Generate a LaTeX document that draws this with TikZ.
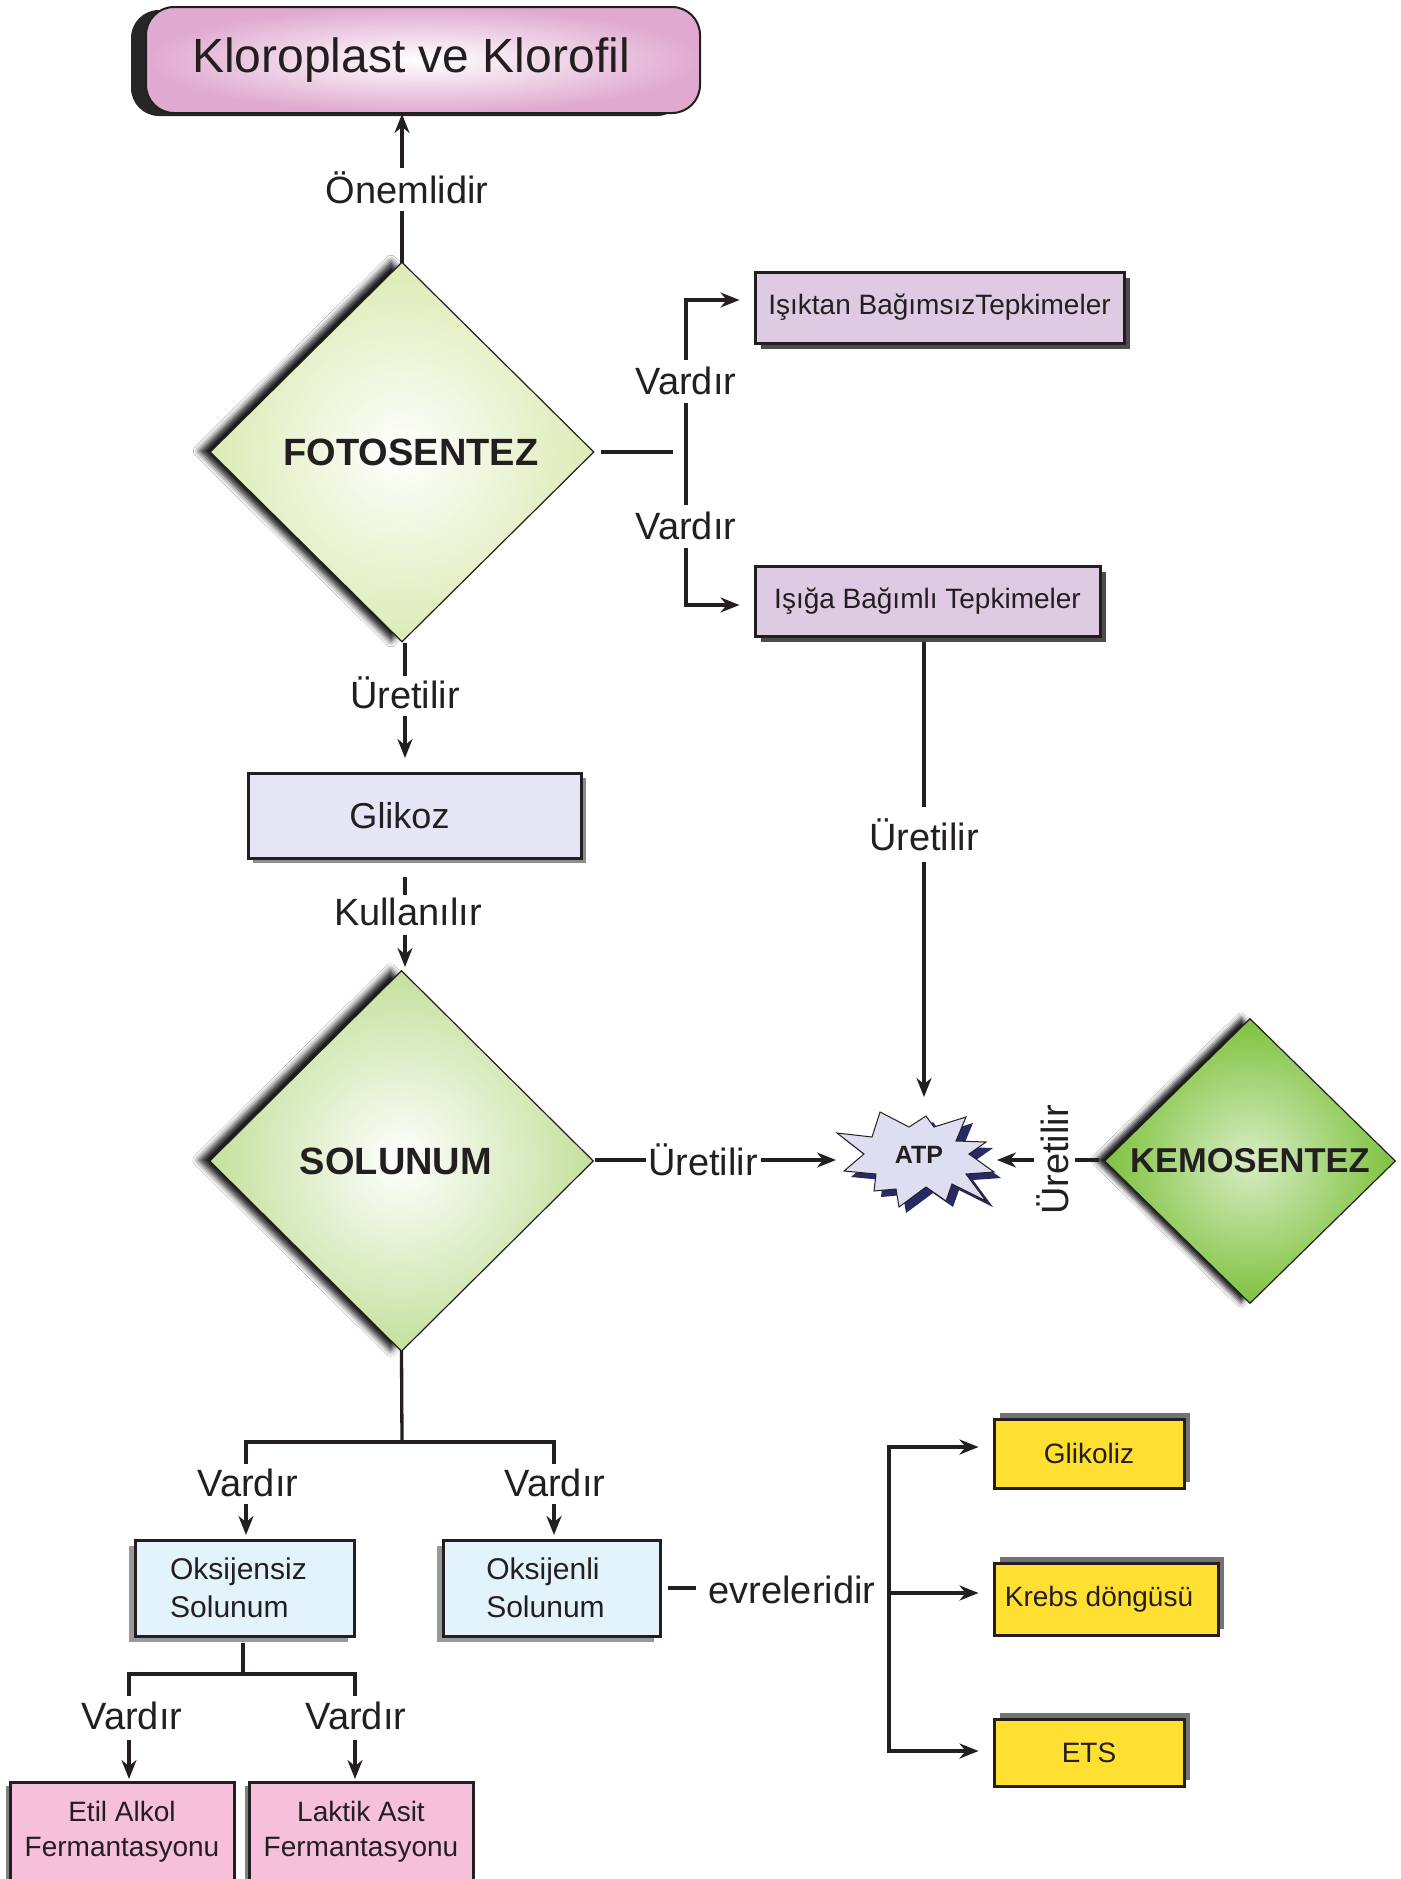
\documentclass[tikz,border=0pt]{standalone}
\usepackage{fontspec}
\setmainfont{Liberation Sans}
\usetikzlibrary{shapes.geometric,shadows,shadows.blur,arrows.meta}
\definecolor{ink}{RGB}{35,31,32}
\definecolor{kpink}{RGB}{224,170,208}
\definecolor{lav}{RGB}{222,202,226}
\definecolor{glk}{RGB}{230,229,245}
\definecolor{fgreen}{RGB}{220,235,180}
\definecolor{sgreen}{RGB}{196,224,156}
\definecolor{kgreen}{RGB}{126,194,62}
\definecolor{lblue}{RGB}{226,243,252}
\definecolor{fpink}{RGB}{246,192,218}
\definecolor{yel}{RGB}{255,224,50}
\definecolor{atpfill}{RGB}{222,222,242}
\definecolor{navy}{RGB}{40,42,100}
\begin{document}
\begin{tikzpicture}[x=1pt,y=-1pt,
  line/.style={draw=ink,line width=3.3pt,line cap=rect},
  arr/.style={draw=ink,line width=3.3pt,-{Stealth[length=19pt,width=15pt]}},
  lbl/.style={font=\fontsize{38}{44}\selectfont,text=ink,inner sep=0pt},
  box/.style={rectangle,draw=ink,line width=3pt,inner sep=0pt,text=ink},
  dia/.style={diamond,draw=ink,line width=1.2pt,inner sep=0pt,text=ink,
     font=\fontsize{38}{44}\selectfont\bfseries},
  rbshadow/.style={drop shadow={shadow xshift=6pt,shadow yshift=-6pt,fill=black!70,opacity=1}},
  lbshadow/.style={drop shadow={shadow xshift=-6pt,shadow yshift=-6pt,fill=black!40,opacity=1}},
  rtshadow/.style={drop shadow={shadow xshift=6pt,shadow yshift=6pt,fill=black!55,opacity=1}},
  dshadow/.style={blur shadow={shadow xshift=-11pt,shadow yshift=1pt,shadow blur radius=6pt,shadow opacity=90}},
]
\useasboundingbox[fill=white] (0,0) rectangle (1400,1879);

% ---------- nodes ----------
\node[box,rounded corners=28pt,minimum width=554pt,minimum height=106pt,
  shade,inner color=white,outer color=kpink,line width=2pt,
  drop shadow={shadow xshift=-15pt,shadow yshift=-3pt,fill=black!85,opacity=1},
  font=\fontsize{48}{56}\selectfont] (kloro) at (423,60) {\hspace*{-24pt}Kloroplast ve Klorofil};

\node[dia,minimum width=384pt,minimum height=380pt,shade,inner color=white,outer color=fgreen,dshadow]
  (foto) at (402,452) {\hspace*{18pt}FOTOSENTEZ};

\node[box,fill=lav,minimum width=369pt,minimum height=71pt,rbshadow,
  font=\fontsize{28}{34}\selectfont] (ik) at (939.5,307.5) {Işıktan BağımsızTepkimeler};
\node[box,fill=lav,minimum width=345pt,minimum height=70pt,rbshadow,
  font=\fontsize{28}{34}\selectfont] (ig) at (927.5,601) {Işığa Bağımlı Tepkimeler};

\node[box,fill=glk,minimum width=333pt,minimum height=85pt,
  drop shadow={shadow xshift=5pt,shadow yshift=-5pt,fill=black!45,opacity=1},
  font=\fontsize{36}{42}\selectfont] (glikoz) at (414.5,815.5) {\hspace*{-30pt}Glikoz};

\node[dia,minimum width=384pt,minimum height=381pt,shade,inner color=white,outer color=sgreen,dshadow]
  (sol) at (401.5,1161) {\hspace*{-11pt}SOLUNUM};

\node[dia,minimum width=291pt,minimum height=285pt,shade,inner color=white!70!kgreen,outer color=kgreen,
  blur shadow={shadow xshift=-9pt,shadow yshift=1pt,shadow blur radius=5pt,shadow opacity=90},
  font=\fontsize{34.5}{40}\selectfont\bfseries] (kemo) at (1250,1161) {KEMOSENTEZ};

% ATP starburst
\begin{scope}[shift={(926,1160)}]
\fill[navy] (-82,-21) -- (-47,-17) -- (-39,-42) -- (-10,-27) -- (7,-38) -- (15,-27) -- (47,-37)
  -- (37,-13) -- (67,-12) -- (50,0) -- (75,18) -- (47,20) -- (67,47) -- (33,30) -- (27,47)
  -- (7,33) -- (-20,53) -- (-23,35) -- (-45,37) -- (-43,20) -- (-75,17) -- (-55,0) -- cycle;
\end{scope}
\begin{scope}[shift={(919,1154)}]
\filldraw[fill=atpfill,draw=ink,line width=1pt] (-82,-21) -- (-47,-17) -- (-39,-42) -- (-10,-27) -- (7,-38) -- (15,-27) -- (47,-37)
  -- (37,-13) -- (67,-12) -- (50,0) -- (75,18) -- (47,20) -- (67,47) -- (33,30) -- (27,47)
  -- (7,33) -- (-20,53) -- (-23,35) -- (-45,37) -- (-43,20) -- (-75,17) -- (-55,0) -- cycle;
\end{scope}
\node[font=\fontsize{25}{30}\selectfont\bfseries,text=ink,inner sep=0pt] (atp) at (919,1155) {ATP};
\coordinate (atpN) at (924,1097);
\coordinate (atpW) at (836,1160);
\coordinate (atpE) at (997,1160);

\node[box,fill=lblue,minimum width=219pt,minimum height=96pt,lbshadow,align=left,
  font=\fontsize{30}{38}\selectfont] (oksiz) at (244.5,1588) {\hspace*{-12pt}Oksijensiz\\\hspace*{-12pt}Solunum};
\node[box,fill=lblue,minimum width=217pt,minimum height=96pt,lbshadow,align=left,
  font=\fontsize{30}{38}\selectfont] (oksli) at (551.5,1588) {\hspace*{-12pt}Oksijenli\\\hspace*{-12pt}Solunum};

\node[box,fill=fpink,minimum width=224pt,minimum height=100pt,align=center,
  drop shadow={shadow xshift=-4pt,shadow yshift=-4pt,fill=black!50,opacity=1},
  font=\fontsize{28}{35}\selectfont] (etil) at (122,1832) {Etil Alkol\\Fermantasyonu};
\node[box,fill=fpink,minimum width=224pt,minimum height=100pt,align=center,
  drop shadow={shadow xshift=-4pt,shadow yshift=-4pt,fill=black!50,opacity=1},
  font=\fontsize{28}{35}\selectfont] (laktik) at (361,1832) {Laktik Asit\\Fermantasyonu};

\node[box,fill=yel,minimum width=190pt,minimum height=69pt,rtshadow,
  font=\fontsize{28}{34}\selectfont] (glikoliz) at (1089,1453.5) {Glikoliz};
\node[box,fill=yel,minimum width=224pt,minimum height=72pt,rtshadow,
  font=\fontsize{28}{34}\selectfont] (krebs) at (1106,1599) {\hspace*{-14pt}Krebs döngüsü};
\node[box,fill=yel,minimum width=190pt,minimum height=67pt,rtshadow,
  font=\fontsize{28}{34}\selectfont] (ets) at (1089,1752.5) {ETS};

% ---------- labels ----------
\node[lbl] (lOnem) at (407,188) {Önemlidir};
\node[lbl] (lV1) at (686,381) {Vardır};
\node[lbl] (lV2) at (686,526) {Vardır};
\node[lbl] (lU1) at (405,693) {Üretilir};
\node[lbl] (lU2) at (924,835) {Üretilir};
\node[lbl] (lKul) at (408,912) {Kullanılır};
\node[lbl] (lU3) at (703,1160) {Üretilir};
\node[lbl,rotate=90] (lU4) at (1053,1160) {Üretilir};
\node[lbl] (lV3) at (248,1483) {Vardır};
\node[lbl] (lV4) at (555,1483) {Vardır};
\node[lbl] (lV5) at (132,1716) {Vardır};
\node[lbl] (lV6) at (356,1716) {Vardır};
\node[lbl] (lEvr) at (792,1590) {evreleridir};

% ---------- connectors ----------
% foto -> kloro
\draw[line] (foto.north) -- (402,213);
\draw[arr] (402,168) -- (kloro.south -| foto.north);
% foto -> ik / ig
\draw[line] (603,452) -- (671,452);
\coordinate (bTop) at (686,300);
\coordinate (bBot) at (686,605);
\draw[arr] (686,360) -- (bTop) -- ([xshift=-14pt]ik.west |- bTop);
\draw[line] (686,405) -- (686,503);
\draw[arr] (686,548) -- (bBot) -- ([xshift=-14pt]ig.west |- bBot);
% ig -> ATP
\draw[line] (924,644) -- (924,805);
\draw[arr] (924,862) -- (atpN);
% foto -> glikoz
\draw[line] (405,645) -- (405,674);
\draw[arr] (405,716) -- (405,758);
% glikoz -> sol
\draw[line] (405,879) -- (405,893);
\draw[arr] (405,935) -- (405,967);
% sol -> ATP
\draw[line] (597,1160) -- (644,1160);
\draw[arr] (761,1160) -- (atpW);
% kemo -> ATP
\draw[line] (1077,1160) -- (1097,1160);
\draw[arr] (1034,1160) -- (atpE);
% sol -> oksiz / oksli
\draw[line] (sol.south) -- (402,1442);
\draw[line] (246,1462) -- (246,1442) -- (554,1442) -- (554,1462);
\draw[arr] (246,1504) -- (246,1535);
\draw[arr] (554,1504) -- (554,1535);
% oksiz -> etil / laktik
\draw[line] (243,1645) -- (243,1674);
\draw[line] (129,1694) -- (129,1674) -- (355,1674) -- (355,1694);
\draw[arr] (129,1740) -- (129,1779);
\draw[arr] (355,1740) -- (355,1779);
% oksli -> evreler
\draw[line] (670,1588) -- (694,1588);
\draw[line] (889,1447) -- (889,1751);
\draw[arr] (889,1447) -- ([xshift=-14pt]glikoliz.west |- 0,1447);
\draw[arr] (889,1593) -- ([xshift=-14pt]krebs.west |- 0,1593);
\draw[arr] (889,1751) -- ([xshift=-14pt]ets.west |- 0,1751);
\end{tikzpicture}
\end{document}
